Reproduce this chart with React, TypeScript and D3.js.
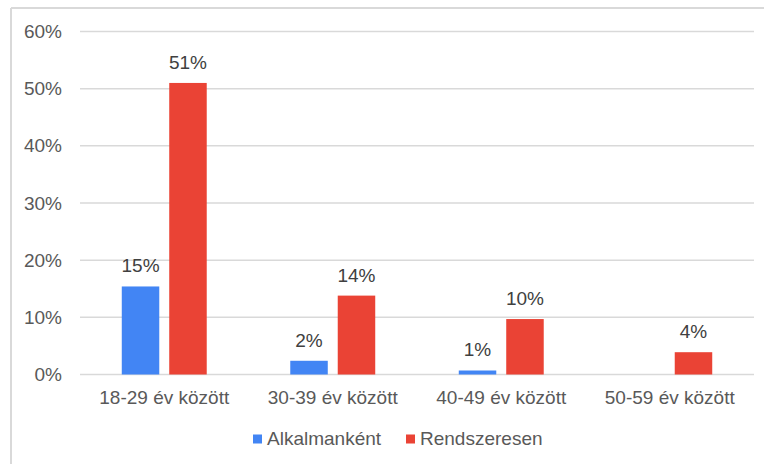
import React from 'react';
import * as d3 from 'd3';

const categories = ['18-29 év között', '30-39 év között', '40-49 év között', '50-59 év között'];
const seriesNames = ['Alkalmanként', 'Rendszeresen'];
const alkalmankent = [0.154, 0.024, 0.007, 0];
const rendszeresen = [0.51, 0.138, 0.097, 0.039];
const yTicks = [0, 0.1, 0.2, 0.3, 0.4, 0.5, 0.6];
const colors = ['#4285F4', '#EA4335'];

const W = 764;
const H = 464;
const FONT = 'Liberation Sans, Arial, sans-serif';

export default function App() {
  const x0 = d3.scaleBand<string>().domain(categories).range([80, 754]);
  const x1 = d3
    .scaleBand<string>()
    .domain(seriesNames)
    .range([0, x0.bandwidth()])
    .paddingInner(0.21)
    .paddingOuter(0.88);
  const y = d3.scaleLinear().domain([0, 0.6]).range([374.5, 31.5]);
  const pct = d3.format('.0%');
  const values = [alkalmankent, rendszeresen];

  return (
    <svg
      width={W}
      height={H}
      style={{ position: 'absolute', left: 0, top: 0, background: '#fff' }}
      fontFamily={FONT}
    >
      <rect x={0} y={0} width={W} height={H} fill="#fff" />
      <line x1={11} x2={W} y1={8} y2={8} stroke="#d9d9d9" strokeWidth={2} />
      <line x1={11} x2={11} y1={8} y2={H} stroke="#d9d9d9" strokeWidth={2} />

      {yTicks.map((t) => (
        <g key={t}>
          <line x1={80} x2={754} y1={y(t)} y2={y(t)} stroke="#d9d9d9" strokeWidth={1.5} />
          <text x={62} y={y(t)} dy="0.35em" textAnchor="end" fontSize={19} fill="#595959">
            {pct(t)}
          </text>
        </g>
      ))}

      {categories.map((c, i) => (
        <g key={c} transform={`translate(${x0(c)},0)`}>
          {seriesNames.map((s, j) => {
            const v = values[j][i];
            if (!v) return null;
            const bx = x1(s) as number;
            return (
              <g key={s}>
                <rect
                  x={bx}
                  y={y(v)}
                  width={x1.bandwidth()}
                  height={y(0) - y(v)}
                  fill={colors[j]}
                />
                <text
                  x={bx + x1.bandwidth() / 2}
                  y={y(v) - 14}
                  textAnchor="middle"
                  fontSize={19}
                  fill="#404040"
                >
                  {pct(v)}
                </text>
              </g>
            );
          })}
          <text x={x0.bandwidth() / 2} y={403.5} textAnchor="middle" fontSize={19} fill="#595959">
            {c}
          </text>
        </g>
      ))}

      {seriesNames.map((s, j) => {
        const lx = [253, 406][j];
        return (
          <g key={s}>
            <rect x={lx} y={434.5} width={9} height={9} fill={colors[j]} />
            <text x={lx + 14} y={445} fontSize={19} fill="#595959">
              {s}
            </text>
          </g>
        );
      })}
    </svg>
  );
}
